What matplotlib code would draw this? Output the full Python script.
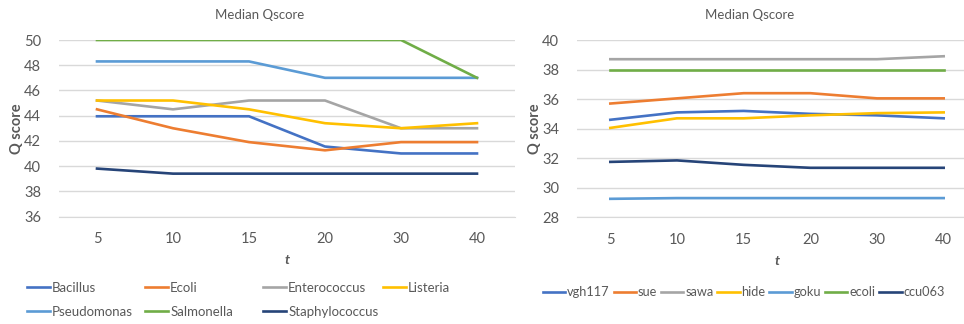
import numpy as np
import matplotlib.pyplot as plt

plt.rcParams['font.family'] = ['Lato', 'DejaVu Sans']

t_labels = ['5', '10', '15', '20', '30', '40']

# left chart: bacteria
left_names = ['Bacillus', 'Ecoli', 'Enterococcus', 'Listeria',
              'Pseudomonas', 'Salmonella', 'Staphylococcus']
bacillus = [43.95, 43.95, 43.95, 41.55, 41.0, 41.0]
ecoli_l = [44.5, 43.0, 41.9, 41.25, 41.9, 41.9]
enterococcus = [45.2, 44.5, 45.2, 45.2, 43.0, 43.0]
listeria = [45.2, 45.2, 44.5, 43.4, 43.0, 43.4]
pseudomonas = [48.3, 48.3, 48.3, 47.0, 47.0, 47.0]
salmonella = [50.0, 50.0, 50.0, 50.0, 50.0, 47.0]
staphylococcus = [39.8, 39.4, 39.4, 39.4, 39.4, 39.4]
left_values = [bacillus, ecoli_l, enterococcus, listeria,
               pseudomonas, salmonella, staphylococcus]

# right chart: samples
right_names = ['vgh117', 'sue', 'sawa', 'hide', 'goku', 'ecoli', 'ccu063']
vgh117 = [34.6, 35.1, 35.2, 35.0, 34.9, 34.7]
sue = [35.7, 36.05, 36.4, 36.4, 36.05, 36.05]
sawa = [38.7, 38.7, 38.7, 38.7, 38.7, 38.9]
hide = [34.05, 34.7, 34.7, 34.9, 35.05, 35.1]
goku = [29.25, 29.3, 29.3, 29.3, 29.3, 29.3]
ecoli_r = [37.95, 37.95, 37.95, 37.95, 37.95, 37.95]
ccu063 = [31.75, 31.85, 31.55, 31.35, 31.35, 31.35]
right_values = [vgh117, sue, sawa, hide, goku, ecoli_r, ccu063]

colors = ['#4472C4', '#ED7D31', '#A5A5A5', '#FFC000',
          '#5B9BD5', '#70AD47', '#264478']

TXT = '#595959'
GRID = '#D9D9D9'
W, H = 964, 324

fig = plt.figure(figsize=(W / 100, H / 100), dpi=100)


def px(x0, y0, x1, y1):
    return [x0 / W, 1 - y1 / H, (x1 - x0) / W, (y1 - y0) / H]


def draw_panel(ax, names, values, ylo, yhi):
    x = np.arange(len(t_labels))
    lines = []
    for name, vals, c in zip(names, values, colors):
        ln, = ax.plot(x, vals, color=c, lw=1.9, label=name,
                      solid_joinstyle='round', zorder=3)
        lines.append(ln)
    ax.set_xlim(-0.5, len(t_labels) - 0.5)
    ax.set_ylim(ylo, yhi)
    ax.set_yticks(np.arange(ylo, yhi + 1, 2))
    ax.set_xticks(x)
    ax.set_xticklabels(t_labels)
    ax.grid(axis='y', color=GRID, lw=1)
    ax.set_axisbelow(True)
    for s in ['top', 'right', 'left']:
        ax.spines[s].set_visible(False)
    ax.spines['bottom'].set_color(GRID)
    ax.tick_params(length=0, colors=TXT, labelsize=10.5)
    ax.tick_params(axis='y', pad=13)
    ax.tick_params(axis='x', pad=11)
    ax.set_xlabel('t', fontsize=10, fontweight='bold', style='italic',
                  color=TXT, labelpad=6)
    ax.set_ylabel('Q score', fontsize=10.5, fontweight='bold', color=TXT,
                  labelpad=0)
    return lines


ax1 = fig.add_axes(px(59, 40, 515, 216.5))
lines1 = draw_panel(ax1, left_names, left_values, 36, 50)
ax2 = fig.add_axes(px(577, 40, 977, 217.3))
lines2 = draw_panel(ax2, right_names, right_values, 28, 40)

fig.text(260 / W, 1 - 15 / H, 'Median Qscore', ha='center', va='center',
         color=TXT, fontsize=9.5)
fig.text(750 / W, 1 - 15 / H, 'Median Qscore', ha='center', va='center',
         color=TXT, fontsize=9.5)

leg_kw = dict(frameon=False, labelcolor=TXT, handlelength=1.75,
              handletextpad=0.15, borderpad=0, borderaxespad=0)

# left legend: four evenly spaced columns
col_x = [27, 145, 263, 383]
for ci, cx in enumerate(col_x):
    idx = [i for i in range(len(lines1)) if i % 4 == ci]
    fig.legend([lines1[i] for i in idx], [left_names[i] for i in idx],
               loc='upper left', bbox_to_anchor=(cx / W, 1 - 282 / H),
               labelspacing=0.9, fontsize=9.5, **leg_kw)

fig.legend(lines2, right_names, loc='center left', ncol=7,
           bbox_to_anchor=(543 / W, 1 - 292 / H), columnspacing=0.3,
           fontsize=9.2, **leg_kw)

fig.savefig('out.png', dpi=100)
